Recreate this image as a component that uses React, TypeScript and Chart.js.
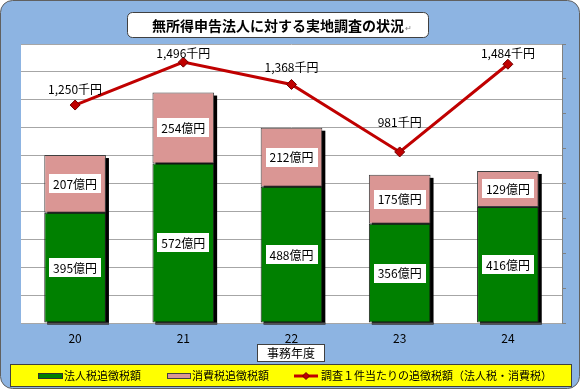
import React, { useEffect, useRef } from 'react';
import { Chart, registerables } from 'chart.js';

Chart.register(...registerables);

const FONT = '"Noto Sans CJK JP", "Noto Sans", sans-serif';

const categories = ['20', '21', '22', '23', '24'];
const corporateTax = [395, 572, 488, 356, 416];
const consumptionTax = [207, 254, 212, 175, 129];
const perCaseTax = [1250, 1496, 1368, 981, 1484];

const titleText = '無所得申告法人に対する実地調査の状況';
const xAxisTitle = '事務年度';
const seriesNames = ['法人税追徴税額', '消費税追徴税額', '調査１件当たりの追徴税額（法人税・消費税）'];

const lineLabelOffsets = [16, 9, 17, 30, 11];

const GREEN = '#008000';
const PINK = '#DA9694';
const RED = '#C00000';
const BLUE_BG = '#8DB4E2';

function drawDiamond(ctx: CanvasRenderingContext2D, x: number, y: number, r: number) {
  ctx.beginPath();
  ctx.moveTo(x, y - r);
  ctx.lineTo(x + r, y);
  ctx.lineTo(x, y + r);
  ctx.lineTo(x - r, y);
  ctx.closePath();
  ctx.fillStyle = RED;
  ctx.fill();
  ctx.strokeStyle = '#700000';
  ctx.lineWidth = 1;
  ctx.stroke();
}

const decorPlugin = {
  id: 'decor',
  beforeDraw(chart: any) {
    const ctx = chart.ctx as CanvasRenderingContext2D;
    const { left, top, right, bottom } = chart.chartArea;
    ctx.save();
    ctx.beginPath();
    (ctx as any).roundRect(0.5, 0.5, 579, 388, 12);
    ctx.fillStyle = BLUE_BG;
    ctx.fill();
    ctx.strokeStyle = '#606060';
    ctx.lineWidth = 1;
    ctx.stroke();
    ctx.fillStyle = '#ffffff';
    ctx.fillRect(left, top, right - left, bottom - top);
    ctx.restore();
  },
  beforeDatasetsDraw(chart: any) {
    const ctx = chart.ctx as CanvasRenderingContext2D;
    const m1 = chart.getDatasetMeta(1);
    const m2 = chart.getDatasetMeta(2);
    ctx.save();
    ctx.fillStyle = '#000000';
    for (let i = 0; i < categories.length; i++) {
      const b = m1.data[i].getProps(['x', 'y', 'base', 'width'], true);
      const t = m2.data[i].getProps(['x', 'y', 'base', 'width'], true);
      const x0 = t.x - t.width / 2 + 3;
      ctx.fillRect(x0, t.y + 3, t.width, b.base - t.y - 1);
      ctx.fillStyle = '#505050';
      ctx.fillRect(x0, b.base, t.width, 2);
      ctx.fillStyle = '#000000';
    }
    ctx.restore();
  },
  afterDatasetsDraw(chart: any) {
    const ctx = chart.ctx as CanvasRenderingContext2D;
    ctx.save();
    ctx.font = `12px ${FONT}`;
    ctx.textAlign = 'center';
    ctx.textBaseline = 'middle';
    [1, 2].forEach((di) => {
      const meta = chart.getDatasetMeta(di);
      const data = chart.data.datasets[di].data as number[];
      meta.data.forEach((el: any, i: number) => {
        const p = el.getProps(['x', 'y', 'base'], true);
        const cy = (p.y + p.base) / 2;
        const txt = `${data[i]}億円`;
        const w = ctx.measureText(txt).width + 8;
        const h = 19;
        ctx.fillStyle = '#ffffff';
        ctx.fillRect(Math.round(p.x - w / 2), Math.round(cy - h / 2), Math.round(w), h);
        ctx.fillStyle = '#000000';
        ctx.fillText(txt, p.x, cy + 0.5);
      });
    });
    const lm = chart.getDatasetMeta(0);
    lm.data.forEach((el: any, i: number) => {
      const p = el.getProps(['x', 'y'], true);
      const txt = `${perCaseTax[i].toLocaleString('en-US')}千円`;
      ctx.fillStyle = '#000000';
      ctx.fillText(txt, p.x, p.y - lineLabelOffsets[i]);
    });
    ctx.restore();
  },
  afterDraw(chart: any) {
    const ctx = chart.ctx as CanvasRenderingContext2D;
    ctx.save();
    // Title box
    ctx.beginPath();
    (ctx as any).roundRect(127.5, 12.5, 301, 25, 5);
    ctx.fillStyle = '#ffffff';
    ctx.fill();
    ctx.strokeStyle = '#404040';
    ctx.lineWidth = 1;
    ctx.stroke();
    ctx.font = `bold 14px ${FONT}`;
    ctx.textAlign = 'left';
    ctx.textBaseline = 'middle';
    ctx.fillStyle = '#000000';
    const tw = ctx.measureText(titleText).width;
    const tx = 278 - tw / 2;
    ctx.fillText(titleText, tx, 25.5);
    ctx.font = `8px ${FONT}`;
    ctx.fillStyle = '#808080';
    ctx.fillText('↵', tx + tw + 1, 28);

    // X axis title box
    ctx.fillStyle = '#ffffff';
    ctx.fillRect(257.5, 344.5, 67, 17);
    ctx.strokeStyle = '#404040';
    ctx.strokeRect(257.5, 344.5, 67, 17);
    ctx.font = `12px ${FONT}`;
    ctx.textAlign = 'center';
    ctx.fillStyle = '#000000';
    ctx.fillText(xAxisTitle, 291, 353.5);

    // Legend
    ctx.fillStyle = '#FFFF00';
    ctx.fillRect(10.5, 364.5, 561, 22);
    ctx.strokeStyle = '#404040';
    ctx.strokeRect(10.5, 364.5, 561, 22);
    const ly = 376;
    ctx.font = `11px ${FONT}`;
    ctx.textAlign = 'left';
    ctx.textBaseline = 'middle';
    // green
    ctx.fillStyle = GREEN;
    ctx.fillRect(38.5, ly - 2.5, 24, 5);
    ctx.strokeStyle = '#303030';
    ctx.strokeRect(38.5, ly - 2.5, 24, 5);
    ctx.fillStyle = '#000000';
    ctx.fillText(seriesNames[0], 64, ly);
    // pink
    ctx.fillStyle = PINK;
    ctx.fillRect(167.5, ly - 2.5, 23, 5);
    ctx.strokeStyle = '#404040';
    ctx.strokeRect(167.5, ly - 2.5, 23, 5);
    ctx.fillStyle = '#000000';
    ctx.fillText(seriesNames[1], 192, ly);
    // red line
    ctx.strokeStyle = RED;
    ctx.lineWidth = 3;
    ctx.beginPath();
    ctx.moveTo(294, ly);
    ctx.lineTo(318, ly);
    ctx.stroke();
    drawDiamond(ctx, 306, ly, 3.5);
    ctx.fillStyle = '#000000';
    ctx.fillText(seriesNames[2], 321, ly);
    ctx.restore();
  },
};

export default function App() {
  const canvasRef = useRef<HTMLCanvasElement | null>(null);

  useEffect(() => {
    const canvas = canvasRef.current;
    if (!canvas) return;
    const chart = new Chart(canvas, {
      type: 'bar',
      data: {
        labels: categories,
        datasets: [
          {
            type: 'line',
            label: seriesNames[2],
            data: perCaseTax,
            yAxisID: 'y1',
            borderColor: RED,
            borderWidth: 3,
            pointStyle: 'rectRot',
            pointRadius: 5,
            pointBackgroundColor: RED,
            pointBorderColor: '#700000',
            pointBorderWidth: 1,
            tension: 0,
            order: 0,
          } as any,
          {
            type: 'bar',
            label: seriesNames[0],
            data: corporateTax,
            yAxisID: 'y',
            backgroundColor: GREEN,
            borderColor: '#202020',
            borderWidth: 1,
            borderSkipped: false,
            barPercentage: 0.57,
            categoryPercentage: 1,
            order: 1,
          },
          {
            type: 'bar',
            label: seriesNames[1],
            data: consumptionTax,
            yAxisID: 'y',
            backgroundColor: PINK,
            borderColor: '#404040',
            borderWidth: 1,
            borderSkipped: false,
            barPercentage: 0.57,
            categoryPercentage: 1,
            order: 1,
          },
        ],
      },
      options: {
        responsive: false,
        animation: false,
        devicePixelRatio: 1,
        layout: { padding: { top: 44, left: 0, right: 0, bottom: 0 } },
        plugins: {
          legend: { display: false },
          title: { display: false },
          tooltip: { enabled: false },
        },
        scales: {
          x: {
            stacked: true,
            grid: { display: false, drawTicks: false },
            border: { display: false },
            ticks: { padding: 8, color: '#000000', font: { size: 12, family: FONT } },
            afterFit(s: any) {
              s.height = 66;
            },
          },
          y: {
            stacked: true,
            position: 'left',
            min: 0,
            max: 1000,
            ticks: { display: false, stepSize: 100 },
            grid: { color: '#a6a6a6', drawTicks: false },
            border: { display: false },
            afterFit(s: any) {
              s.width = 21;
            },
          },
          y1: {
            position: 'right',
            min: 0,
            max: 1600,
            ticks: { display: false, stepSize: 200 },
            grid: { drawOnChartArea: false, drawTicks: true, tickLength: 4, color: '#808080' },
            border: { display: true, color: '#808080' },
            afterFit(s: any) {
              s.width = 18;
            },
          },
        },
      } as any,
      plugins: [decorPlugin],
    });
    return () => chart.destroy();
  }, []);

  return (
    <div style={{ position: 'absolute', left: 0, top: 0, width: 580, height: 389 }}>
      <canvas ref={canvasRef} width={580} height={389} style={{ display: 'block' }} />
    </div>
  );
}
